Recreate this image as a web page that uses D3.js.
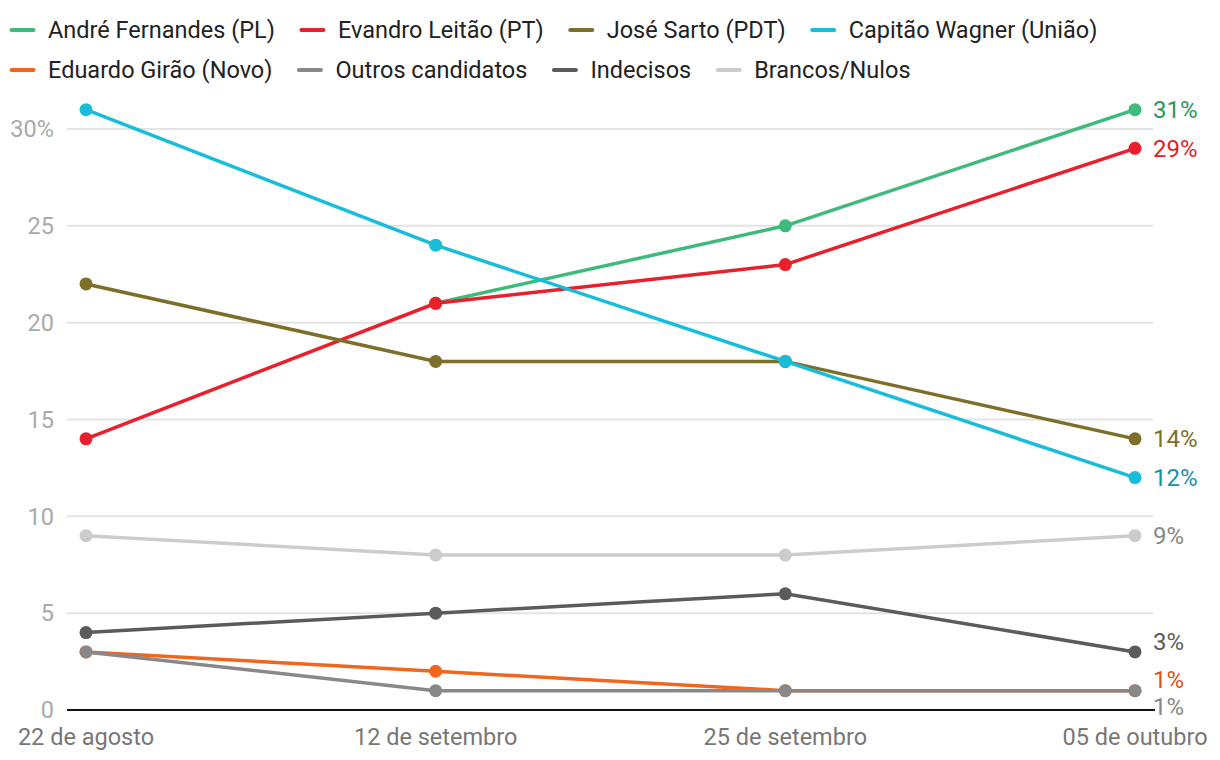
<!DOCTYPE html>
<html><head><meta charset="utf-8">
<script src="https://cdn.jsdelivr.net/npm/d3@7"></script>
<style>body{margin:0;background:#fff;font-family:Roboto,sans-serif}</style>
</head><body><svg id="c" width="1220" height="760"></svg>
<script>
const dates = ["22 de agosto","12 de setembro","25 de setembro","05 de outubro"];
const seriesNames = ["André Fernandes (PL)","Evandro Leitão (PT)","José Sarto (PDT)","Capitão Wagner (União)","Eduardo Girão (Novo)","Outros candidatos","Indecisos","Brancos/Nulos"];
const andre = [null,21,25,31];
const evandro = [14,21,23,29];
const sarto = [22,18,18,14];
const wagner = [31,24,18,12];
const girao = [3,2,1,1];
const outros = [3,1,1,1];
const indecisos = [4,5,6,3];
const brancos = [9,8,8,9];
const yTicks = [0,5,10,15,20,25,30];
const values = [andre,evandro,sarto,wagner,girao,outros,indecisos,brancos];
const colors = ["#3dba7c","#e9202b","#7d6e2a","#17bdd9","#f0661f","#888888","#5b5b5b","#cccccc"];
const labelColors = ["#1f9a5a","#e01f2a","#7d6e2a","#1592ab","#d9531a","#888888","#5b5b5b","#888888"];
// label offsets to avoid overlap (px)
const labelDy = [0,0,0,0,-11,16,-10,0];

const svg = d3.select("#c");
const x = d3.scalePoint().domain(dates).range([86,1135]);
const y = d3.scaleLinear().domain([0,30]).range([710,129]);

// grid
svg.append("g").selectAll("line").data(yTicks.filter(d=>d>0)).join("line")
  .attr("x1",67).attr("x2",1153).attr("y1",d=>y(d)).attr("y2",d=>y(d))
  .attr("stroke","#e3e3e3").attr("stroke-width",2);
// y labels
svg.append("g").selectAll("text").data(yTicks).join("text")
  .attr("x",54).attr("y",d=>y(d)).attr("dy","0.35em").attr("text-anchor","end")
  .attr("font-size",23.5).attr("fill","#aaaaaa").text(d=>d===30?"30%":d);
// baseline
svg.append("line").attr("x1",67).attr("x2",1155).attr("y1",y(0)).attr("y2",y(0))
  .attr("stroke","#111").attr("stroke-width",2);
// x labels
svg.append("g").selectAll("text").data(dates).join("text")
  .attr("x",d=>x(d)).attr("y",745).attr("text-anchor","middle")
  .attr("font-size",23.5).attr("fill","#777").text(d=>d);

const line = d3.line().defined(d=>d.v!=null).x(d=>x(d.d)).y(d=>y(d.v));
values.forEach((vals,i)=>{
  const pts = vals.map((v,j)=>({d:dates[j],v}));
  const g = svg.append("g");
  g.append("path").attr("d",line(pts)).attr("fill","none").attr("stroke",colors[i]).attr("stroke-width",3.5);
  g.selectAll("circle").data(pts.filter(p=>p.v!=null)).join("circle")
    .attr("cx",p=>x(p.d)).attr("cy",p=>y(p.v)).attr("r",6.5).attr("fill",colors[i]);
});
values.forEach((vals,i)=>{
  const last = vals[vals.length-1];
  svg.append("text").attr("x",1153).attr("y",y(last)+labelDy[i]).attr("dy","0.35em")
    .attr("font-size",24).attr("fill",labelColors[i]).text(last+"%");
});

// legend
const rows = [[0,1,2,3],[4,5,6,7]];
rows.forEach((r,ri)=>{
  let cx = 10;
  const yy = 30 + ri*40;
  r.forEach(i=>{
    svg.append("line").attr("x1",cx+1.5).attr("x2",cx+23.5).attr("y1",yy).attr("y2",yy)
      .attr("stroke",colors[i]).attr("stroke-width",4).attr("stroke-linecap","round");
    const t = svg.append("text").attr("x",cx+38).attr("y",yy).attr("dy","0.35em")
      .attr("font-size",23.5).attr("fill","#222").text(seriesNames[i]);
    cx += 38 + t.node().getComputedTextLength() + 25;
  });
});
</script></body></html>
